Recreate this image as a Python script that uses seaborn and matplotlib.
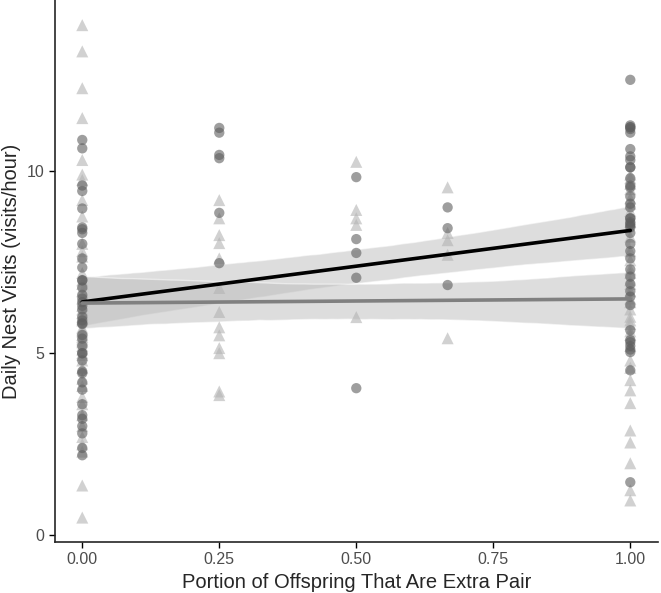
import numpy as np
import pandas as pd
import matplotlib
matplotlib.use('Agg')
import matplotlib.pyplot as plt
import seaborn as sns

# circles (dark group) - x = portion extra pair, y = visits/hour
circ_x0 = [10.85, 10.62, 9.6, 9.45, 8.97, 8.45, 8.4, 8.3, 8.0, 7.6, 7.35, 7.0, 7.0,
           6.8, 6.6, 6.5, 6.4, 6.3, 6.2, 6.0, 5.9, 5.82, 5.8, 5.5, 5.4, 5.2, 5.0,
           5.0, 4.8, 4.5, 4.45, 4.2, 4.0, 3.6, 3.3, 3.2, 3.0, 2.8, 2.4, 2.2]
circ_x25 = [11.18, 11.05, 10.44, 10.35, 8.85, 7.47]
circ_x50 = [9.83, 8.13, 7.75, 7.07, 4.04]
circ_x67 = [9.0, 8.43, 6.87]
circ_x100 = [12.5, 11.25, 11.2, 11.2, 11.15, 11.05, 10.6, 10.4, 10.3, 10.1, 10.1,
             9.8, 9.6, 9.55, 9.3, 9.1, 9.0, 8.7, 8.7, 8.6, 8.55, 8.5, 8.45, 8.3,
             8.0, 7.8, 7.6, 7.3, 7.1, 6.9, 6.7, 6.55, 6.32, 5.63, 5.36, 5.3, 5.2,
             5.1, 5.03, 4.53, 1.46]

# triangles (light group)
tri_x0 = [14.0, 13.28, 12.27, 11.45, 10.3, 9.9, 9.75, 9.2, 8.75, 8.0, 7.8, 7.65,
          7.2, 7.0, 6.9, 6.7, 6.5, 6.3, 6.2, 6.1, 6.0, 5.95, 5.9, 5.7, 5.65, 5.6,
          5.5, 5.45, 5.4, 5.35, 5.3, 5.2, 5.1, 5.0, 4.95, 4.8, 4.6, 4.3, 4.1, 3.8,
          3.6, 3.3, 3.0, 2.7, 2.5, 2.3, 1.37, 0.49]
tri_x25 = [9.2, 8.7, 8.24, 8.02, 7.6, 6.79, 6.13, 5.71, 5.49, 5.14, 5.0, 3.95, 3.85]
tri_x50 = [10.25, 8.93, 8.7, 8.52, 5.99]
tri_x67 = [9.55, 8.3, 8.1, 7.7, 5.41]
tri_x100 = [9.9, 9.8, 9.65, 9.5, 9.25, 9.1, 8.9, 8.6, 8.2, 7.8, 7.55, 7.3, 7.2,
            7.0, 6.9, 6.7, 6.5, 6.4, 6.2, 6.0, 5.9, 5.8, 5.6, 5.5, 5.2, 4.8,
            4.6, 4.26, 3.98, 3.63, 2.88, 2.55, 1.98, 1.24, 0.96]


def make_df(groups):
    xs, ys = [], []
    for xv, vals in groups:
        xs += [xv] * len(vals)
        ys += vals
    return pd.DataFrame({'portion': xs, 'visits': ys})


circ = make_df([(0, circ_x0), (0.25, circ_x25), (0.5, circ_x50), (2/3, circ_x67), (1, circ_x100)])
tri = make_df([(0, tri_x0), (0.25, tri_x25), (0.5, tri_x50), (2/3, tri_x67), (1, tri_x100)])

sns.set_style('ticks')
plt.rcParams['font.family'] = ['Liberation Sans', 'DejaVu Sans']

fig = plt.figure(figsize=(6.61, 5.93), dpi=100)
ax = fig.add_axes([0.083, 0.086, 0.912, 0.914])

sns.scatterplot(data=tri, x='portion', y='visits', marker='^', s=75, color='#b3b3b3',
                alpha=0.6, edgecolor='none', ax=ax, zorder=2)
sns.scatterplot(data=circ, x='portion', y='visits', marker='o', s=55, color='#5e5e5e',
                alpha=0.6, edgecolor='none', ax=ax, zorder=2)

sns.regplot(data=circ, x='portion', y='visits', scatter=False, ax=ax, seed=1, n_boot=2000,
            color='black', line_kws={'lw': 2.6, 'zorder': 4})
sns.regplot(data=tri, x='portion', y='visits', scatter=False, ax=ax, seed=1, n_boot=2000,
            color='#808080', line_kws={'lw': 2.6, 'zorder': 4})
for coll in ax.collections[2:]:
    coll.set_facecolor('#bdbdbd')
    coll.set_alpha(0.5)

ax.set_xlim(-0.05, 1.05)
ax.set_ylim(-0.18, 14.69)
ax.set_xticks([0, 0.25, 0.5, 0.75, 1.0])
ax.set_xticklabels(['0.00', '0.25', '0.50', '0.75', '1.00'])
ax.set_yticks([0, 5, 10])
ax.tick_params(labelsize=11.5, length=4, width=1, colors='black', labelcolor='#4d4d4d')
ax.set_xlabel('Portion of Offspring That Are Extra Pair', fontsize=14.5)
ax.set_ylabel('Daily Nest Visits (visits/hour)', fontsize=14.5)
for s in ['left', 'bottom']:
    ax.spines[s].set_linewidth(1.2)
sns.despine(ax=ax)

fig.savefig('out.png', dpi=100)
